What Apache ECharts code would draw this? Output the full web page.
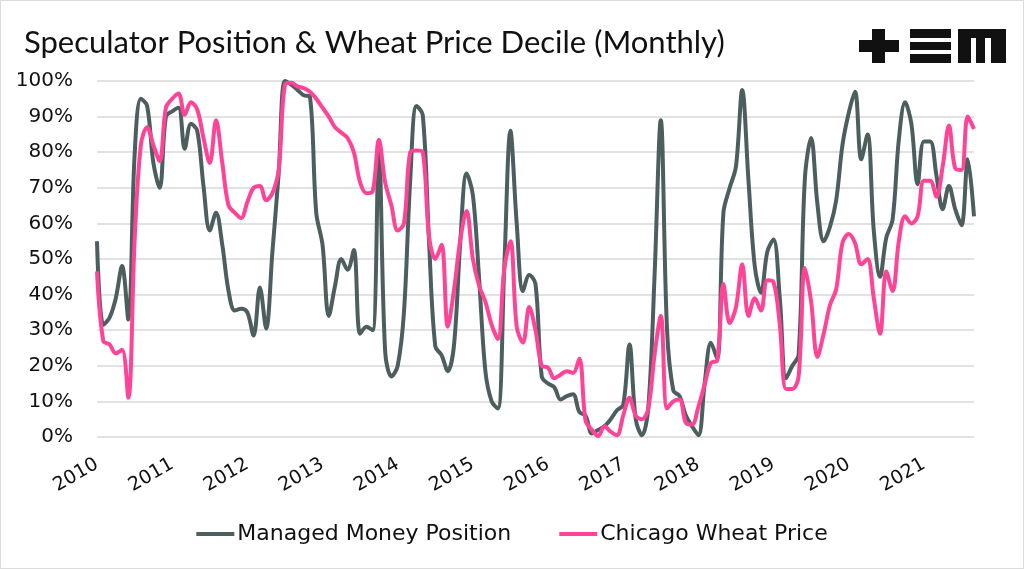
<!DOCTYPE html>
<html>
<head>
<meta charset="utf-8">
<script src="https://cdn.jsdelivr.net/npm/echarts@6/dist/echarts.min.js"></script>
<style>
html,body{margin:0;padding:0;background:#fff;}
#chart{width:1022px;height:567px;border:1px solid #dcdcdc;}
</style>
</head>
<body>
<div id="chart"></div>
<script>
const years = ['2010','2011','2012','2013','2014','2015','2016','2017','2018','2019','2020','2021'];
const monthCount = 141;
const yTicks = [0,10,20,30,40,50,60,70,80,90,100];

const managedMoney = [
55,31.5,33.5,39,48,33,79,95,93,77,70,90,
91.5,92.5,81,88,86,70.5,58,63,54,41,35.5,36,
35,28.5,42,30.5,52,74,100,99,97.5,96,95.5,63,
54,34,42.5,50,47,52.5,29,31,30,81,24,17,
20,35,72,93,90.5,55,25.5,23,18.5,26,55,74,
68,44.5,18.5,10,8,47,86,60,41,45.5,43,17,
15,14,10.5,11.5,12,7,6,1,2,3,5,7.5,
9,26,5,0.5,8,45,89,30,13,11.5,6,3,
0.5,15,26.5,22,63,70,76,97.5,72,48,40.5,52,
55.5,39,16.5,20,23,72.5,84,65.5,55,59,66.5,82,
91,97,78,85,58,45,56,61,83.5,94,88,71,
83,83,73.5,64,70.5,64,59.5,78,62
];

const wheatPrice = [
46.5,27,26,23.5,24.5,11,55,82,87,82,77.5,92.5,
95,96.5,90.5,94,92,84,77,89,77,65,63,61.5,
66,70,70.5,66.5,68.5,75,99,99.5,98.5,98,97,95,
92.5,90,87,85.5,84,80,71.5,68.5,69,83.5,71.5,65,
58,60,80,80.5,80,56.5,50,54,31,41.5,55.5,63.5,
50,42.5,38,31.5,27.5,47,55,31,26.5,36.5,30,20,
19.5,16.5,17.5,18.5,18,22,4.5,2,0.3,3,1.5,0.5,
6,11,6,5,8,23,34,8,10,10.5,4,3.5,
8.5,14.7,20.8,21.5,43,32,36.5,48.5,34,39,35.5,44,
43.5,31.5,13.5,13.5,17,47.5,38,22.5,29,37,41.5,54.5,
57,54.5,48.5,50,39,29,46.5,41,55,62,60,62,
72,72,67.5,76,87.5,75.5,75,90,86.5
];

const categories = [];
for (let i = 0; i < monthCount; i++) {
  const y = years[Math.floor(i / 12)];
  const m = (i % 12) + 1;
  categories.push(y + '-' + (m < 10 ? '0' + m : m));
}

const chart = echarts.init(document.getElementById('chart'));
const FONT = 'DejaVu Sans';
chart.setOption({
  animation: false,
  backgroundColor: '#fff',
  title: {
    text: 'Speculator Position & Wheat Price Decile (Monthly)',
    left: 18, top: 21,
    textStyle: {fontFamily: 'Lato', fontSize: 31, fontWeight: 'normal', color: '#111'}
  },
  graphic: [
    {type:'rect', shape:{x:871,y:28,width:13,height:34}, style:{fill:'#111'}},
    {type:'rect', shape:{x:858,y:39,width:40,height:12}, style:{fill:'#111'}},
    {type:'rect', shape:{x:909,y:28,width:41,height:9}, style:{fill:'#111'}},
    {type:'rect', shape:{x:909,y:41,width:41,height:8}, style:{fill:'#111'}},
    {type:'rect', shape:{x:909,y:53,width:41,height:9}, style:{fill:'#111'}},
    {type:'rect', shape:{x:957,y:28,width:48,height:9}, style:{fill:'#111'}},
    {type:'rect', shape:{x:957,y:28,width:13,height:34}, style:{fill:'#111'}},
    {type:'rect', shape:{x:975,y:28,width:9,height:34}, style:{fill:'#111'}},
    {type:'rect', shape:{x:990,y:28,width:15,height:34}, style:{fill:'#111'}}
  ],
  legend: {
    bottom: 18, left: 'center',
    itemWidth: 38, itemHeight: 4, itemGap: 48,
    icon: 'rect',
    textStyle: {fontFamily: FONT, fontSize: 22, color: '#111', padding: [0,0,0,-2]},
    data: ['Managed Money Position', 'Chicago Wheat Price']
  },
  grid: {left: 96, right: 49, top: 80, bottom: 131},
  xAxis: {
    type: 'category',
    data: categories,
    boundaryGap: false,
    axisLine: {show: false},
    axisTick: {show: false},
    splitLine: {show: false},
    axisLabel: {
      interval: function (idx) { return idx % 12 === 0; },
      formatter: function (v) { return v.slice(0, 4); },
      rotate: 30,
      margin: 26,
      fontFamily: FONT, fontSize: 19, color: '#111'
    }
  },
  yAxis: {
    type: 'value',
    min: 0, max: 100, interval: 10,
    axisLine: {show: false},
    axisTick: {show: false},
    axisLabel: {formatter: '{value}%', fontFamily: FONT, fontSize: 20, color: '#111', margin: 24},
    splitLine: {lineStyle: {color: '#d9d9d9', width: 1.5}}
  },
  series: [
    {
      name: 'Managed Money Position', type: 'line', data: managedMoney,
      smooth: 0.35, showSymbol: false, symbol: 'none',
      lineStyle: {color: '#4d5e5e', width: 4},
      itemStyle: {color: '#4d5e5e'}
    },
    {
      name: 'Chicago Wheat Price', type: 'line', data: wheatPrice,
      smooth: 0.35, showSymbol: false, symbol: 'none',
      lineStyle: {color: '#ff4497', width: 4},
      itemStyle: {color: '#ff4497'}
    }
  ]
});
</script>
</body>
</html>
